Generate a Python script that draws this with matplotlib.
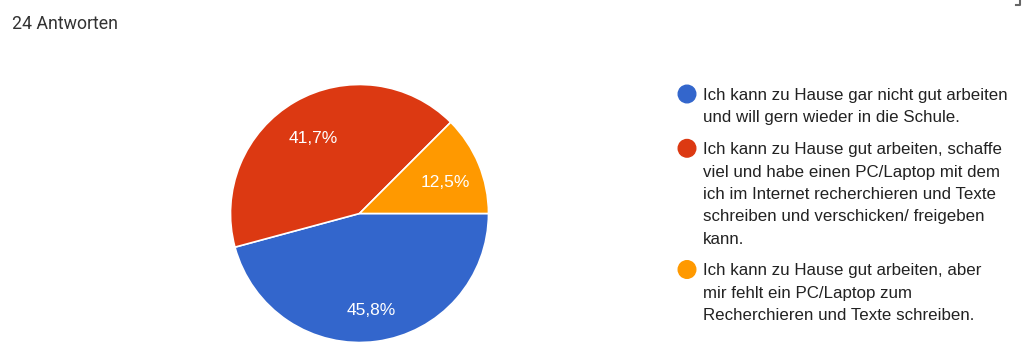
import matplotlib.pyplot as plt
from matplotlib.patches import Ellipse
from matplotlib.lines import Line2D

# survey answers (legend text, line by line)
labels = [
    ['Ich kann zu Hause gar nicht gut arbeiten',
     'und will gern wieder in die Schule.'],
    ['Ich kann zu Hause gut arbeiten, schaffe',
     'viel und habe einen PC/Laptop mit dem',
     'ich im Internet recherchieren und Texte',
     'schreiben und verschicken/ freigeben',
     'kann.'],
    ['Ich kann zu Hause gut arbeiten, aber',
     'mir fehlt ein PC/Laptop zum',
     'Recherchieren und Texte schreiben.'],
]
shares = [45.8, 41.7, 12.5]
colors = ['#3366CC', '#DC3912', '#FF9900']
title = '24 Antworten'

W, H = 1024, 355
fig = plt.figure(figsize=(W / 100, H / 100), dpi=100)
fig.patch.set_facecolor('white')

def fx(px):
    return px / W

def fy(py):
    return 1 - py / H

fig.text(fx(12), fy(29), title, family='Roboto', fontsize=12.8,
         color='#333333', va='baseline', ha='left')

# small grey corner of an icon at the top right
fig.add_artist(Line2D([fx(1016), fx(1020), fx(1020)], [fy(5), fy(5), fy(0)],
                      transform=fig.transFigure, color='#666666', lw=1.5))

# pie, center ~ (359, 213), radius ~129 px
cx, cy, r = 359.5, 213.5, 129
ax = fig.add_axes([fx(cx - r), fy(cy + r), 2 * r / W, 2 * r / H])
wedges, texts, autotexts = ax.pie(
    shares, colors=colors, startangle=0, counterclock=False,
    autopct=lambda p: ('%.1f%%' % p).replace('.', ','), pctdistance=0.72,
    wedgeprops=dict(edgecolor='white', linewidth=1.2))
for t in autotexts:
    t.set_color('white')
    t.set_fontsize(12.5)
    t.set_family('Liberation Sans')
    x, y = t.get_position()
    t.set_position((x, y - 5 / r))
ax.set_aspect('equal')
ax.set_xlim(-1, 1)
ax.set_ylim(-1, 1)
ax.axis('off')

# legend, drawn by hand so the dot sits on the first line
pitch = 22.3
base = 100
for lines, col in zip(labels, colors):
    fig.add_artist(Ellipse((fx(687), fy(base - 6)), 17.6 / W, 17.6 / H,
                           transform=fig.transFigure, color=col))
    for k, line in enumerate(lines):
        fig.text(fx(703), fy(base + k * pitch), line, family='Liberation Sans',
                 fontsize=12.2, color='#222222', va='baseline', ha='left')
    base += (len(lines) - 1) * pitch + 32

fig.savefig('out.png', dpi=100)
